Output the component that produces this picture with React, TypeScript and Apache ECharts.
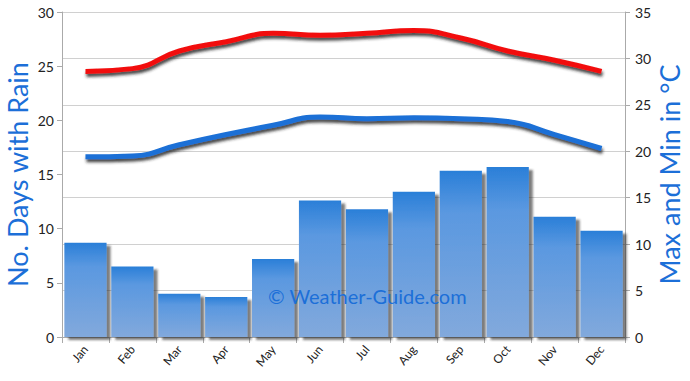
import React, { useEffect, useRef } from "react";
import * as echarts from "echarts";

const months = ["Jan", "Feb", "Mar", "Apr", "May", "Jun", "Jul", "Aug", "Sep", "Oct", "Nov", "Dec"];
const rainDays = [8.7, 6.5, 4.0, 3.7, 7.2, 12.6, 11.8, 13.4, 15.35, 15.7, 11.1, 9.8];
const maxTemp = [28.6, 28.9, 30.8, 31.8, 32.7, 32.5, 32.7, 33.0, 32.2, 30.8, 29.8, 28.6];
const minTemp = [19.4, 19.5, 20.7, 21.8, 22.8, 23.7, 23.5, 23.6, 23.5, 23.2, 21.8, 20.3];
const leftTicks = [0, 5, 10, 15, 20, 25, 30];
const rightTicks = [0, 5, 10, 15, 20, 25, 30, 35];

const FONT = "Lato, 'DejaVu Sans', sans-serif";
const NAME_COLOR = "#1c6fd8";

export default function App() {
  const ref = useRef<HTMLDivElement>(null);
  useEffect(() => {
    if (!ref.current) return;
    const chart = echarts.init(ref.current, undefined, { renderer: "svg" });
    chart.setOption({
      animation: false,
      backgroundColor: "#ffffff",
      grid: { left: 62, right: 65, top: 12, bottom: 44, outerBoundsMode: "none", containLabel: false },
      xAxis: {
        type: "category",
        data: months,
        axisLine: { lineStyle: { color: "#aaaaaa", width: 1 } },
        axisTick: { show: true, length: 6, lineStyle: { color: "#aaaaaa" } },
        axisLabel: { rotate: 50, color: "#222", fontSize: 12, fontFamily: FONT, margin: 10 },
      },
      yAxis: [
        {
          type: "value",
          min: leftTicks[0],
          max: leftTicks[leftTicks.length - 1],
          interval: 5,
          name: "No. Days with Rain",
          nameLocation: "middle",
          nameRotate: 90,
          nameGap: 31,
          nameMoveOverlap: false,
          nameTextStyle: { color: NAME_COLOR, fontSize: 27, fontFamily: FONT, lineHeight: 28 },
          axisLine: { show: true, lineStyle: { color: "#aaaaaa" } },
          axisTick: { show: true, length: 5, lineStyle: { color: "#aaaaaa" } },
          axisLabel: { color: "#222", fontSize: 14, fontFamily: FONT, margin: 8 },
          splitLine: { show: false },
        },
        {
          type: "value",
          min: rightTicks[0],
          max: rightTicks[rightTicks.length - 1],
          interval: 5,
          name: "Max and Min in °C",
          nameLocation: "middle",
          nameRotate: 90,
          nameGap: 30,
          nameMoveOverlap: false,
          nameTextStyle: { color: NAME_COLOR, fontSize: 27, fontFamily: FONT, lineHeight: 28 },
          axisLine: { show: true, lineStyle: { color: "#aaaaaa" } },
          axisTick: { show: true, length: 5, lineStyle: { color: "#aaaaaa" } },
          axisLabel: { color: "#222", fontSize: 14, fontFamily: FONT, margin: 10 },
          splitLine: { show: true, lineStyle: { color: "#d0d0d0", width: 1 } },
        },
      ],
      series: [
        {
          type: "bar",
          yAxisIndex: 0,
          data: rainDays,
          barCategoryGap: "10%",
          itemStyle: {
            color: new echarts.graphic.LinearGradient(0, 0, 0, 1, [
              { offset: 0, color: "#2a7fd8" },
              { offset: 0.25, color: "#5a98e0" },
              { offset: 1, color: "#82a9dc" },
            ]),
            shadowColor: "rgba(40,40,40,0.6)",
            shadowOffsetX: 4,
            shadowOffsetY: 3,
            shadowBlur: 2,
          },
        },
        {
          type: "line",
          yAxisIndex: 1,
          data: maxTemp,
          smooth: true,
          symbol: "none",
          lineStyle: {
            color: "#f21010",
            width: 5,
            shadowColor: "rgba(40,40,40,0.85)",
            shadowBlur: 3,
            shadowOffsetX: 1,
            shadowOffsetY: 3,
          },
        },
        {
          type: "line",
          yAxisIndex: 1,
          data: minTemp,
          smooth: true,
          symbol: "none",
          lineStyle: {
            color: "#1a6fd6",
            width: 5,
            shadowColor: "rgba(40,40,40,0.85)",
            shadowBlur: 3,
            shadowOffsetX: 1,
            shadowOffsetY: 3,
          },
        },
      ],
      graphic: [
        {
          type: "text",
          left: 268,
          top: 286,
          z: 100,
          style: {
            text: "© Weather-Guide.com",
            fill: "#1c6fd8",
            fontSize: 20,
            fontFamily: FONT,
          },
        },
      ],
    });
    return () => chart.dispose();
  }, []);
  return <div ref={ref} style={{ width: 690, height: 381, position: "fixed", left: 0, top: 0 }} />;
}
